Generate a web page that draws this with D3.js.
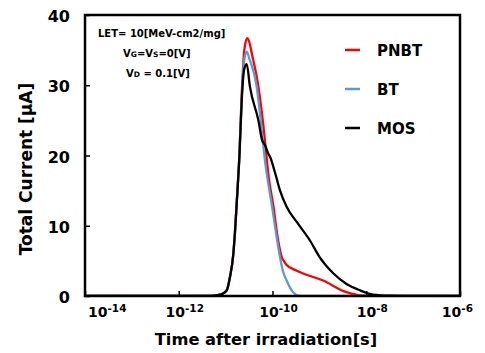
<!DOCTYPE html>
<html><head><meta charset="utf-8">
<script src="https://cdn.jsdelivr.net/npm/d3@7"></script>
<style>
body{margin:0;background:#fff;}
svg text{font-family:"DejaVu Sans",sans-serif;font-weight:bold;fill:#000;}
</style></head>
<body><svg id="c" width="485" height="353"></svg>
<script>
// ---- data ----
const seriesNames = ["PNBT", "BT", "MOS"];
const seriesColors = ["#ff0000", "#5b9bd5", "#000000"];

const pnbtTime = [1e-14, 3.98e-12, 5.75e-12, 7.6e-12, 9.5e-12, 1.07e-11, 1.23e-11, 1.45e-11, 1.58e-11, 1.74e-11, 1.95e-11, 2.2e-11, 2.5e-11, 2.88e-11, 3.3e-11, 3.6e-11, 5.0e-11, 6.2e-11, 7.6e-11, 8.1e-11, 1.05e-10, 1.32e-10, 1.58e-10, 1.78e-10, 1.95e-10, 3.3e-10, 1.2e-9, 3.8e-9, 7.4e-9, 1.95e-8, 1e-6];
const pnbtCurrent = [0, 0, 0.05, 0.2, 0.5, 0.9, 2.6, 5.8, 9.0, 13.8, 19.6, 28.5, 35.0, 36.7, 35.8, 34.6, 29.8, 25.0, 19.3, 17.5, 12.7, 7.9, 5.5, 4.9, 4.5, 3.6, 2.2, 0.54, 0.1, 0, 0];

const btTime = [1e-14, 3.98e-12, 5.75e-12, 7.6e-12, 9.5e-12, 1.07e-11, 1.23e-11, 1.45e-11, 1.58e-11, 1.74e-11, 1.95e-11, 2.2e-11, 2.5e-11, 2.82e-11, 3.2e-11, 4.6e-11, 5.6e-11, 6.9e-11, 9.8e-11, 1.26e-10, 1.45e-10, 1.66e-10, 2.0e-10, 2.75e-10, 3.9e-10, 1e-6];
const btCurrent = [0, 0, 0.05, 0.2, 0.5, 0.9, 2.6, 5.8, 9.0, 13.7, 19.5, 28.0, 33.6, 34.8, 33.8, 29.8, 25.0, 19.3, 12.7, 7.9, 5.5, 3.6, 2.2, 0.54, 0, 0];

const mosTime = [1e-14, 3.98e-12, 5.75e-12, 7.6e-12, 9.5e-12, 1.07e-11, 1.23e-11, 1.45e-11, 1.58e-11, 1.74e-11, 1.95e-11, 2.29e-11, 2.5e-11, 2.82e-11, 3.3e-11, 5.0e-11, 6.0e-11, 6.9e-11, 8.1e-11, 8.9e-11, 1.15e-10, 1.45e-10, 2.0e-10, 3.5e-10, 6.3e-10, 1.02e-9, 2.0e-9, 3.8e-9, 7.4e-9, 1.38e-8, 3.2e-8, 1.4e-7, 1e-6];
const mosCurrent = [0, 0, 0.05, 0.2, 0.5, 0.9, 2.6, 5.8, 9.0, 13.6, 19.3, 29.8, 32.3, 33.0, 29.8, 25.0, 22.2, 21.5, 20.3, 19.8, 17.4, 15.0, 12.7, 10.3, 7.9, 5.5, 3.2, 1.7, 0.8, 0.2, 0.05, 0, 0];

const xTickValues = [1e-14, 1e-12, 1e-10, 1e-8, 1e-6];
const xTickExponents = ["-14", "-12", "-10", "-8", "-6"];
const yTickValues = [0, 10, 20, 30, 40];
const annotationLines = [
  [["LET= 10[MeV-cm2/mg]", 0]],
  [["V", 0], ["G", 1], ["=V", 0], ["S", 1], ["=0[V]", 0]],
  [["V", 0], ["D", 1], [" = 0.1[V]", 0]]
];
const xTitle = "Time after irradiation[s]";
const yTitle = "Total Current [μA]";

// ---- chart ----
const svg = d3.select("#c");
const L = 85, R = 460, T = 15, B = 296;
const x = d3.scaleLog().domain([1e-14, 1e-6]).range([L, R]);
const y = d3.scaleLinear().domain([0, 40]).range([B, T]);

const series = [
  {name: seriesNames[0], color: seriesColors[0], t: pnbtTime, v: pnbtCurrent},
  {name: seriesNames[1], color: seriesColors[1], t: btTime, v: btCurrent},
  {name: seriesNames[2], color: seriesColors[2], t: mosTime, v: mosCurrent}
];

const line = d3.line().x(d => x(d[0])).y(d => y(d[1])).curve(d3.curveMonotoneX);
svg.append("defs").append("clipPath").attr("id","clip")
  .append("rect").attr("x", L).attr("y", T - 5).attr("width", R - L).attr("height", B - T + 5);

const g = svg.append("g").attr("clip-path", "url(#clip)");
series.forEach(s => {
  g.append("path")
    .attr("d", line(s.t.map((t, i) => [t, s.v[i]])))
    .attr("fill", "none").attr("stroke", s.color).attr("stroke-width", 2.3)
    .attr("stroke-linejoin", "round");
});

// axes ticks (inside)
const xAxis = svg.append("g").attr("transform", `translate(0,${B})`)
  .call(d3.axisBottom(x).tickValues(xTickValues).tickSize(-5).tickFormat(""));
xAxis.select(".domain").remove();
xAxis.selectAll("line").attr("stroke", "#000").attr("stroke-width", 1.5);
const yAxis = svg.append("g").attr("transform", `translate(${L},0)`)
  .call(d3.axisLeft(y).tickValues(yTickValues).tickSize(-5).tickFormat(""));
yAxis.select(".domain").remove();
yAxis.selectAll("line").attr("stroke", "#000").attr("stroke-width", 1.5);

// frame
svg.append("rect").attr("x", L).attr("y", T).attr("width", R - L).attr("height", B - T)
  .attr("fill", "none").attr("stroke", "#000").attr("stroke-width", 2.5);

// y tick labels
yTickValues.forEach(v => {
  svg.append("text").attr("x", 70).attr("y", y(v) + 7)
    .attr("text-anchor", "end").style("font-size", "16px").text(v);
});

// x tick labels
xTickValues.forEach((v, i) => {
  const t = svg.append("text").attr("y", 317).style("font-size", "14px");
  t.append("tspan").text("10");
  t.append("tspan").attr("dy", -5).style("font-size", "10.5px").text(xTickExponents[i]);
  const w = t.node().getComputedTextLength();
  let left = x(v) + 6 - w / 2;
  left = Math.max(88, Math.min(473 - w, left));
  t.attr("x", left);
});

// axis titles
svg.append("text").attr("x", 266).attr("y", 345).attr("text-anchor", "middle")
  .style("font-size", "16.3px").text(xTitle);
svg.append("text").attr("transform", "translate(32,169) rotate(-90)").attr("text-anchor", "middle")
  .style("font-size", "17px").text(yTitle);

// annotation
const annX = [98, 123, 126], annY = [37, 57, 77];
annotationLines.forEach((parts, i) => {
  const t = svg.append("text").attr("x", annX[i]).attr("y", annY[i]).style("font-size", "10px");
  parts.forEach(p => t.append("tspan").style("font-size", p[1] ? "7.5px" : "10px").text(p[0]));
});

// legend
const legY = [50, 89, 128];
series.forEach((s, i) => {
  svg.append("line").attr("x1", 345).attr("x2", 360).attr("y1", legY[i]).attr("y2", legY[i])
    .attr("stroke", s.color).attr("stroke-width", 2.5);
  svg.append("text").attr("x", 377).attr("y", legY[i] + 5.5).style("font-size", "15px").text(s.name);
});
</script></body></html>
